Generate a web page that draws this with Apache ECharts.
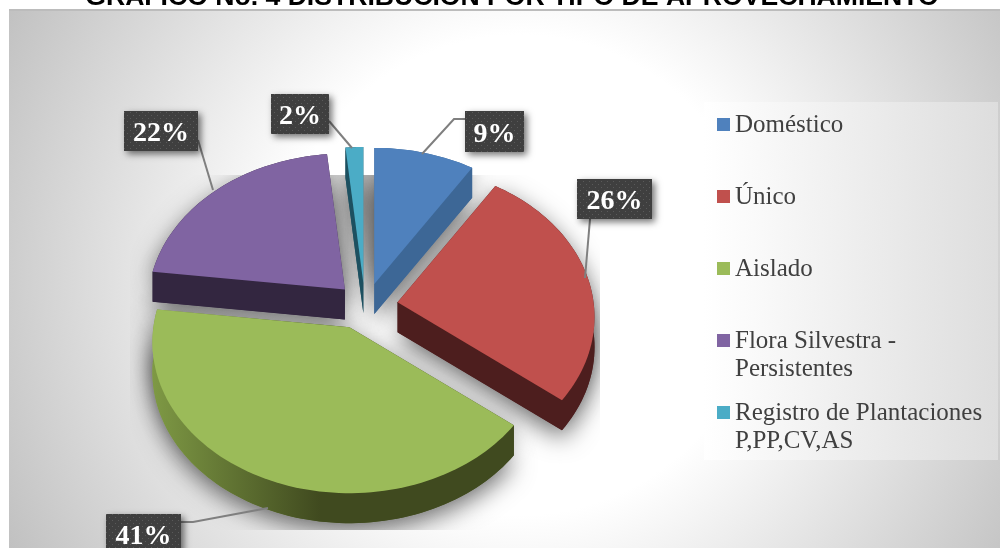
<!DOCTYPE html>
<html><head><meta charset="utf-8">
<style>html,body{margin:0;padding:0;background:#fff}#c{width:1000px;height:548px}</style>
<script src="https://cdn.jsdelivr.net/npm/echarts@6/dist/echarts.min.js"></script>
</head><body><div id="c"></div>
<script>
var categories = ['Doméstico', 'Único', 'Aislado', 'Flora Silvestra -\nPersistentes', 'Registro de Plantaciones\nP,PP,CV,AS'];
var values = [9.1, 26.49, 41.4, 21.5, 1.6];
var topColors = ['#4f81bd', '#c0504d', '#9bbb59', '#8064a2', '#4bacc6'];
var wallColors = ['#3d6796', '#4d1e1e', '#404a1f', '#332640', '#1d5060'];
var drawOrder = [0, 4, 3, 1, 2];
var chartTitle = 'GRÁFICO No. 4 DISTRIBUCIÓN POR TIPO DE APROVECHAMIENTO';
// label boxes: x, y, w, h, leader path
var labelLayout = [
  {b:[465,111,59,41], l:[[465,119],[454,119],[422,154]]},
  {b:[577,179,75,40], l:[[590,219],[585,278]]},
  {b:[106,514,75,40], l:[[181,522],[193,522],[268,508]]},
  {b:[124,111,74,40], l:[[198,140],[213,190]]},
  {b:[271,94,58,40],  l:[[329,121],[352,148]]}
];
var G = {cx:365, cy:306, rx:196, ry:149.5, k:0.099, ex:33, ey:23, h:30, nudge:[0,0,-3,3,0]};
var total = values.reduce(function(a,b){return a+b;},0);

function pattern(){
  var c=document.createElement('canvas');c.width=6;c.height=6;
  var g=c.getContext('2d');g.fillStyle='#3f3f3f';g.fillRect(0,0,6,6);
  g.fillStyle='#5a5a5a';g.fillRect(1,1,1,1);g.fillRect(4,4,1,1);
  return c;
}
var pat = {image:pattern(), repeat:'repeat'};

function geom(i){
  var s=0;for(var j=0;j<i;j++)s+=values[j];
  var a0=s/total*Math.PI*2, a1=(s+values[i])/total*Math.PI*2, m=(a0+a1)/2;
  var ax=G.cx+G.ex*Math.sin(m)+G.nudge[i], ay=G.cy-G.ey*Math.cos(m);
  function p(t,dy){var v=Math.cos(t),sc=1/(1+G.k*v);return [ax+G.rx*Math.sin(t)*sc, ay-G.ry*v*sc+(dy||0)];}
  var rim=[],n=Math.max(8,Math.ceil((a1-a0)/0.03));
  for(var q=0;q<=n;q++)rim.push(p(a0+(a1-a0)*q/n));
  return {apex:[ax,ay],rim:rim};
}
function down(pts){return pts.map(function(a){return [a[0],a[1]+G.h];});}
function poly(pts,style,z2){return {type:'polygon',shape:{points:pts},style:style,z2:z2,silent:true};}

function renderItem(params,api){
  var i=params.dataIndex, g=geom(i), top=[g.apex].concat(g.rim), bot=down(top);
  var ord=drawOrder.indexOf(i), wall=wallColors[i];
  if(i===2) wall={type:'linear',x:150,y:0,x2:320,y2:0,global:true,colorStops:[{offset:0,color:'#7f9a45'},{offset:1,color:'#404a1f'}]};
  var kids=[], sh={fill:'#c8c8c8',shadowBlur:24,shadowOffsetY:8,shadowColor:'rgba(0,0,0,0.55)'};
  // drop shadow, clipped like the source bitmap
  kids.push({type:'group',clipPath:{type:'rect',shape:{x:130,y:175,width:470,height:355}},
    children:[poly(bot,sh,1),poly(top,sh,1)]});
  // walls: bottom face, outer rim strip, two radial edges
  var rimStrip=g.rim.concat(down(g.rim).reverse());
  kids.push(poly(bot,{fill:wall},10+ord));
  kids.push(poly(rimStrip,{fill:wall},10+ord));
  var r0=g.rim[0], r1=g.rim[g.rim.length-1];
  kids.push(poly([g.apex,r0,[r0[0],r0[1]+G.h],[g.apex[0],g.apex[1]+G.h]],{fill:wall},10+ord));
  kids.push(poly([g.apex,r1,[r1[0],r1[1]+G.h],[g.apex[0],g.apex[1]+G.h]],{fill:wall},10+ord));
  kids.push(poly(top,{fill:topColors[i]},30+ord));
  // leader + label box
  var L=labelLayout[i];
  kids.push({type:'polyline',shape:{points:L.l},style:{fill:null,stroke:'#7f7f7f',lineWidth:2},z2:60,silent:true});
  kids.push({type:'rect',shape:{x:L.b[0],y:L.b[1],width:L.b[2],height:L.b[3]},
    style:{fill:pat,shadowBlur:7,shadowOffsetX:3,shadowOffsetY:3,shadowColor:'rgba(0,0,0,0.55)'},z2:70,silent:true});
  kids.push({type:'text',x:L.b[0]+L.b[2]/2,y:L.b[1]+L.b[3]/2+3,
    style:{text:Math.round(api.value(0))+'%',fill:'#fff',font:'bold 28px "Liberation Serif"',align:'center',verticalAlign:'middle'},z2:71,silent:true});
  return {type:'group',children:kids};
}

var bg=[
  {type:'rect',z:0,silent:true,shape:{x:9,y:10,width:991,height:538},
   style:{fill:{type:'radial',x:520,y:275,r:600,global:true,colorStops:[{offset:0,color:'#fff'},{offset:0.4,color:'#fff'},{offset:1,color:'#bdbdbd'}]}}},
  {type:'rect',z:0,silent:true,shape:{x:9,y:9,width:991,height:2},style:{fill:'#bcbcbc'}},
  {type:'rect',z:0,silent:true,shape:{x:704,y:102,width:294,height:358},
   style:{fill:{type:'linear',x:704,y:0,x2:998,y2:0,global:true,colorStops:[{offset:0,color:'rgba(255,255,255,0.9)'},{offset:1,color:'rgba(222,222,222,0.95)'}]}}}
];
categories.forEach(function(name,i){
  var y=124+72*i;
  bg.push({type:'rect',z:20,silent:true,shape:{x:717,y:y-6,width:13,height:13},style:{fill:topColors[i]}});
  bg.push({type:'text',z:20,silent:true,x:735,y:y-13,
    style:{text:name,fill:'#404040',font:'25px "Liberation Serif"',lineHeight:28,align:'left',verticalAlign:'top'}});
});

var chart=echarts.init(document.getElementById('c'),null,{renderer:'canvas'});
chart.setOption({
  animation:false,
  title:{text:chartTitle,left:507,textAlign:'center',top:-21,textStyle:{color:'#000',fontFamily:'Liberation Sans',fontWeight:'bold',fontSize:26.6}},
  graphic:{elements:bg},
  series:[{type:'custom',coordinateSystem:'none',z:5,clip:false,renderItem:renderItem,
    data:values.map(function(v,i){return {name:categories[i],value:[v]};})}]
});
</script></body></html>
